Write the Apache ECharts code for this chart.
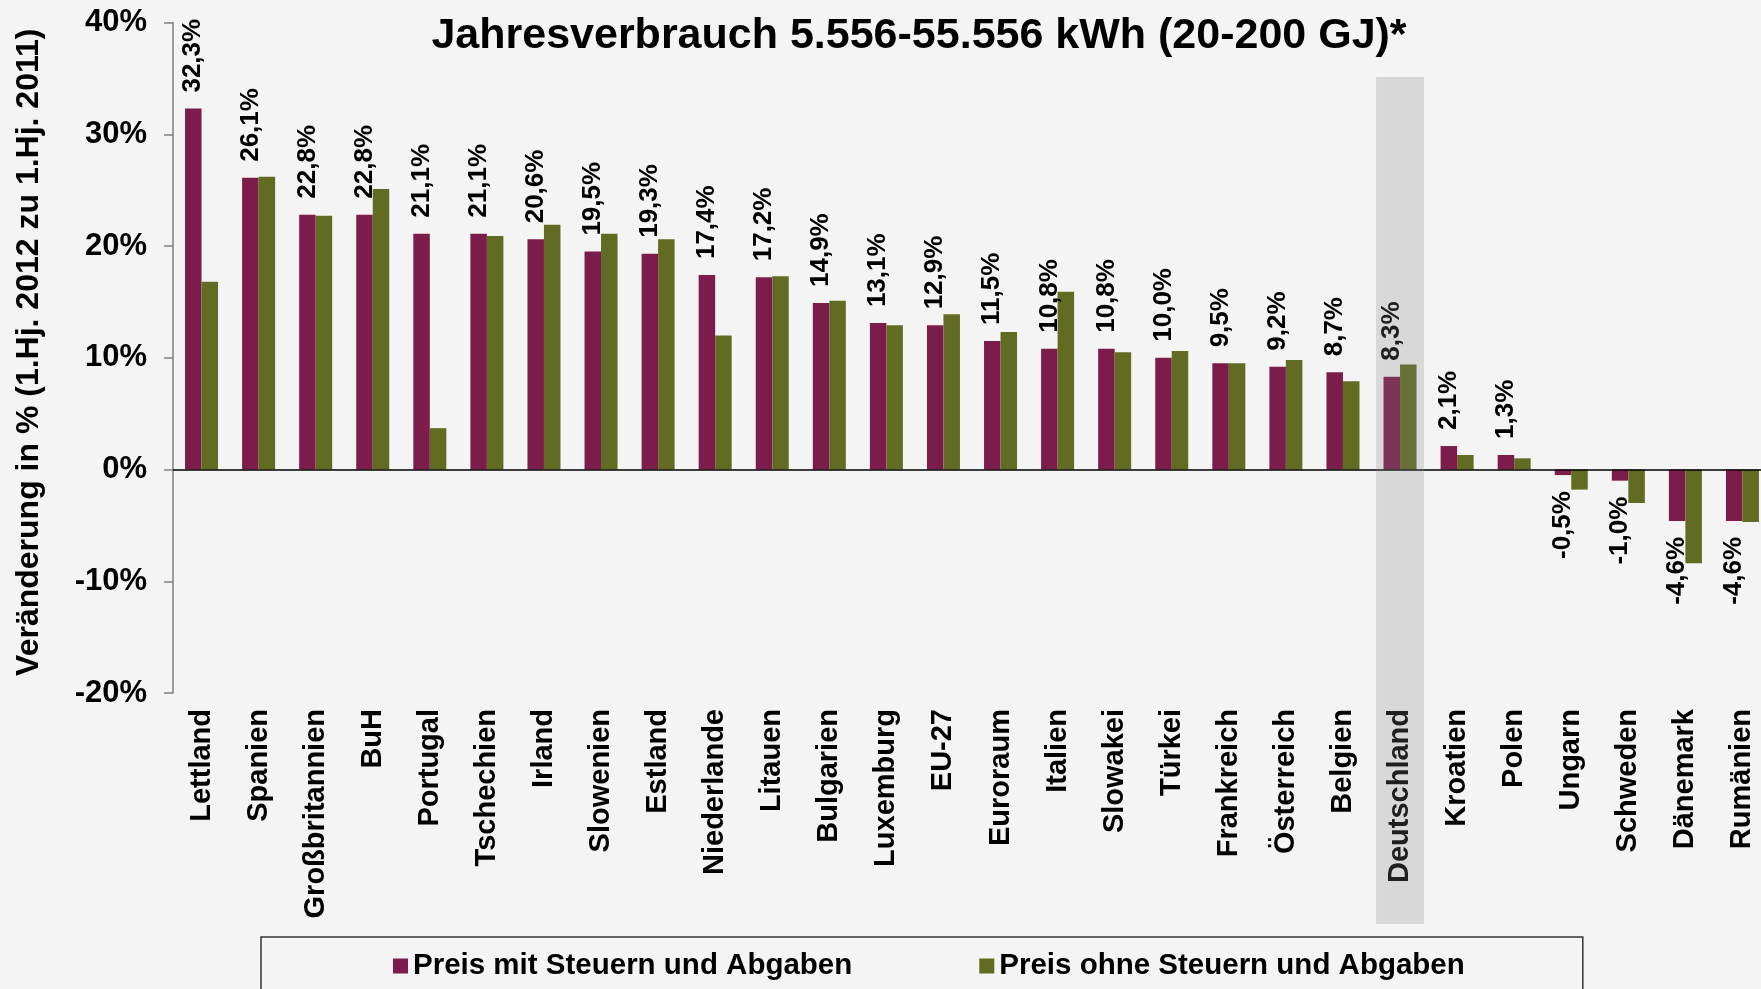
<!DOCTYPE html>
<html>
<head>
<meta charset="utf-8">
<script src="https://cdn.jsdelivr.net/npm/echarts@6/dist/echarts.min.js"></script>
<style>
  html, body { margin: 0; padding: 0; background: #f4f4f4; }
  #chart { width: 1761px; height: 989px; }
</style>
</head>
<body>
<div id="chart"></div>
<script>
const categories = ['Lettland', 'Spanien', 'Großbritannien', 'BuH', 'Portugal', 'Tschechien', 'Irland', 'Slowenien', 'Estland', 'Niederlande', 'Litauen', 'Bulgarien', 'Luxemburg', 'EU-27', 'Euroraum', 'Italien', 'Slowakei', 'Türkei', 'Frankreich', 'Österreich', 'Belgien', 'Deutschland', 'Kroatien', 'Polen', 'Ungarn', 'Schweden', 'Dänemark', 'Rumänien']
const mitSteuern = [32.3, 26.1, 22.8, 22.8, 21.1, 21.1, 20.6, 19.5, 19.3, 17.4, 17.2, 14.9, 13.1, 12.9, 11.5, 10.8, 10.8, 10.0, 9.5, 9.2, 8.7, 8.3, 2.1, 1.3, -0.5, -1.0, -4.6, -4.6]
const ohneSteuern = [16.8, 26.2, 22.7, 25.1, 3.7, 20.9, 21.9, 21.1, 20.6, 12.0, 17.3, 15.1, 12.9, 13.9, 12.3, 15.9, 10.5, 10.6, 9.5, 9.8, 7.9, 9.4, 1.3, 1.0, -1.8, -3.0, -8.4, -4.7]
const yTicks = [-20, -10, 0, 10, 20, 30, 40]
const highlightCategory = 'Deutschland'

const FONT = '"Liberation Sans", Arial, sans-serif'
const MAROON = '#7b1c4a'
const GREEN = '#626b22'

const chart = echarts.init(document.getElementById('chart'))

// negative bars get their label below the bar
const mitData = mitSteuern.map(v => v < 0
  ? { value: v, label: { position: 'bottom', align: 'right' } }
  : v)
const bandData = categories.map(c => c === highlightCategory ? 1 : '-')

chart.setOption({
  backgroundColor: '#f4f4f4',
  animation: false,
  textStyle: { fontFamily: FONT },
  title: {
    text: 'Jahresverbrauch 5.556-55.556 kWh (20-200 GJ)*',
    left: 914,
    textAlign: 'center',
    top: 10,
    textStyle: { fontSize: 43, fontWeight: 'bold', color: '#000', fontFamily: FONT }
  },
  legend: {
    data: ['Preis mit Steuern und Abgaben', 'Preis ohne Steuern und Abgaben'],
    left: 261,
    top: 937,
    padding: [14, 118, 40, 132],
    itemGap: 127,
    itemWidth: 15,
    itemHeight: 15,
    icon: 'rect',
    borderColor: '#333',
    borderWidth: 1.5,
    textStyle: { fontSize: 29.5, fontWeight: 'bold', color: '#000', fontFamily: FONT }
  },
  grid: [
    { left: 173, width: 1598, top: 22.5, bottom: 296, outerBoundsMode: 'none' },
    // grid for the grey highlight band
    { left: 173, width: 1598, top: 77, bottom: 65, outerBoundsMode: 'none' }
  ],
  xAxis: [
    {
      type: 'category',
      gridIndex: 0,
      data: categories,
      axisLine: { show: false },
      axisTick: { show: false },
      axisLabel: {
        interval: 0,
        rotate: 90,
        margin: 16,
        fontSize: 29,
        fontWeight: 'bold',
        color: '#000',
        fontFamily: FONT
      }
    },
    {
      type: 'category',
      gridIndex: 1,
      data: categories,
      show: false
    }
  ],
  yAxis: [
    {
      type: 'value',
      gridIndex: 0,
      min: yTicks[0],
      max: yTicks[yTicks.length - 1],
      interval: 10,
      name: 'Veränderung in % (1.Hj. 2012 zu 1.Hj. 2011)',
      nameLocation: 'middle',
      nameRotate: 90,
      nameGap: 128,
      nameTextStyle: { fontSize: 32, fontWeight: 'bold', color: '#000', fontFamily: FONT, padding: [0, 0, 0, 11] },
      axisLine: { show: true, lineStyle: { color: '#7f7f7f', width: 1.5 } },
      axisTick: { show: true, inside: false, length: 9, lineStyle: { color: '#7f7f7f', width: 1.5 } },
      axisLabel: {
        margin: 26,
        fontSize: 31,
        fontWeight: 'bold',
        color: '#000',
        fontFamily: FONT,
        formatter: '{value}%'
      },
      splitLine: { show: false }
    },
    {
      type: 'value',
      gridIndex: 1,
      min: 0,
      max: 1,
      show: false
    }
  ],
  series: [
    {
      name: 'Preis mit Steuern und Abgaben',
      type: 'bar',
      data: mitData,
      barWidth: 16.5,
      barGap: 0,
      itemStyle: { color: MAROON },
      label: {
        show: true,
        position: 'top',
        distance: 16,
        rotate: 90,
        align: 'left',
        verticalAlign: 'middle',
        fontSize: 26,
        fontWeight: 'bold',
        color: '#000',
        fontFamily: FONT,
        formatter: p => p.value.toFixed(1).replace('.', ',') + '%'
      },
      markLine: {
        silent: true,
        symbol: ['none', 'none'],
        label: { show: false },
        lineStyle: { color: '#000', width: 1.5, type: 'solid' },
        data: [{ yAxis: 0 }]
      }
    },
    {
      name: 'Preis ohne Steuern und Abgaben',
      type: 'bar',
      data: ohneSteuern,
      barWidth: 16.5,
      barGap: 0,
      itemStyle: { color: GREEN }
    },
    {
      name: 'band',
      type: 'bar',
      xAxisIndex: 1,
      yAxisIndex: 1,
      data: bandData,
      barWidth: 48,
      z: 10,
      silent: true,
      itemStyle: { color: 'rgba(128,128,128,0.24)' }
    }
  ]
})
</script>
</body>
</html>
